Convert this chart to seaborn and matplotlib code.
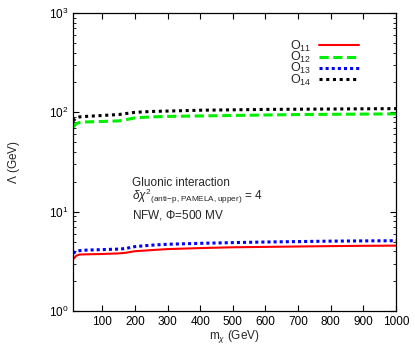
import numpy as np
import pandas as pd
import matplotlib
matplotlib.use('Agg')
import matplotlib.pyplot as plt
import seaborn as sns
from matplotlib.ticker import LogLocator, MultipleLocator

# Data
m_chi = [10, 20, 30, 50, 100, 150, 170, 200, 250, 300, 400, 500, 600, 700, 800, 900, 1000]
o11 = [3.3, 3.6, 3.7, 3.72, 3.75, 3.8, 3.85, 4.0, 4.1, 4.2, 4.3, 4.38, 4.42, 4.46, 4.5, 4.53, 4.55]
o12 = [71, 77, 79, 80, 81, 82, 84, 88, 90, 91, 92, 93, 94, 95, 95.5, 96, 96.5]
o13 = [3.8, 4.0, 4.05, 4.1, 4.15, 4.2, 4.25, 4.45, 4.6, 4.7, 4.8, 4.88, 4.95, 5.0, 5.05, 5.08, 5.1]
o14 = [82, 88, 90, 91, 93, 95, 97, 100, 102, 103, 105, 106, 107, 107.5, 108, 108.5, 109]

labels = ['$\\mathrm{O}_{11}$', '$\\mathrm{O}_{12}$', '$\\mathrm{O}_{13}$', '$\\mathrm{O}_{14}$']
series = [o11, o12, o13, o14]
colors = ['#ff0000', '#00ee00', '#0000ff', '#000000']
dashes = [(None, None), (3, 1.5), (1, 1), (1, 1.2)]
widths = [1.5, 2.2, 2.2, 2.2]

sns.set_theme(style='ticks')
plt.rcParams['font.family'] = ['Liberation Sans', 'DejaVu Sans']
plt.rcParams['mathtext.fontset'] = 'custom'
plt.rcParams['mathtext.rm'] = 'Liberation Sans'
plt.rcParams['mathtext.it'] = 'Liberation Sans:italic'

fig = plt.figure(figsize=(4.15, 3.46), dpi=100)
ax = fig.add_axes([73 / 415, 35 / 346, 323 / 415, 298 / 346])

for lab, vals, c, d, w in zip(labels, series, colors, dashes, widths):
    df = pd.DataFrame({'m': m_chi, 'L': vals})
    sns.lineplot(data=df, x='m', y='L', ax=ax, color=c, lw=w, label=lab)
    l = ax.get_lines()[-1]
    if d[0] is not None:
        l.set_dashes(d)

ax.set_yscale('log')
ax.set_xlim(10, 1000)
ax.set_ylim(1, 1000)
ax.xaxis.set_major_locator(MultipleLocator(100))
ax.yaxis.set_major_locator(LogLocator(base=10))
ax.yaxis.set_minor_locator(LogLocator(base=10, subs=np.arange(2, 10)))
ax.tick_params(which='both', direction='in', top=True, right=True, labelsize=8.5, colors='black')
ax.tick_params(which='major', length=4, width=0.8)
ax.tick_params(which='minor', length=2, width=0.6)
for s in ax.spines.values():
    s.set_linewidth(0.9)
    s.set_color('black')

ax.set_xlabel('m$_{\\chi}$ (GeV)', fontsize=8.5, labelpad=0)
ax.set_ylabel('$\\Lambda$ (GeV)', fontsize=8.5, labelpad=19)

ax.text(0.183, 0.43, 'Gluonic interaction', transform=ax.transAxes, fontsize=8.5, va='center')
ax.text(0.183, 0.385, '$\\delta\\chi^2$$_{\\rm (anti\\!-\\!p,PAMELA,upper)}$ = 4',
        transform=ax.transAxes, fontsize=8.5, va='center')
ax.text(0.183, 0.322, 'NFW, $\\Phi$=500 MV', transform=ax.transAxes, fontsize=8.5, va='center')

leg = ax.legend(loc='upper right', bbox_to_anchor=(0.905, 0.935), frameon=False, fontsize=9,
                handlelength=3.2, labelspacing=-0.3, markerfirst=False, handletextpad=0.6,
                borderpad=0)

fig.savefig('out.png', dpi=100)
